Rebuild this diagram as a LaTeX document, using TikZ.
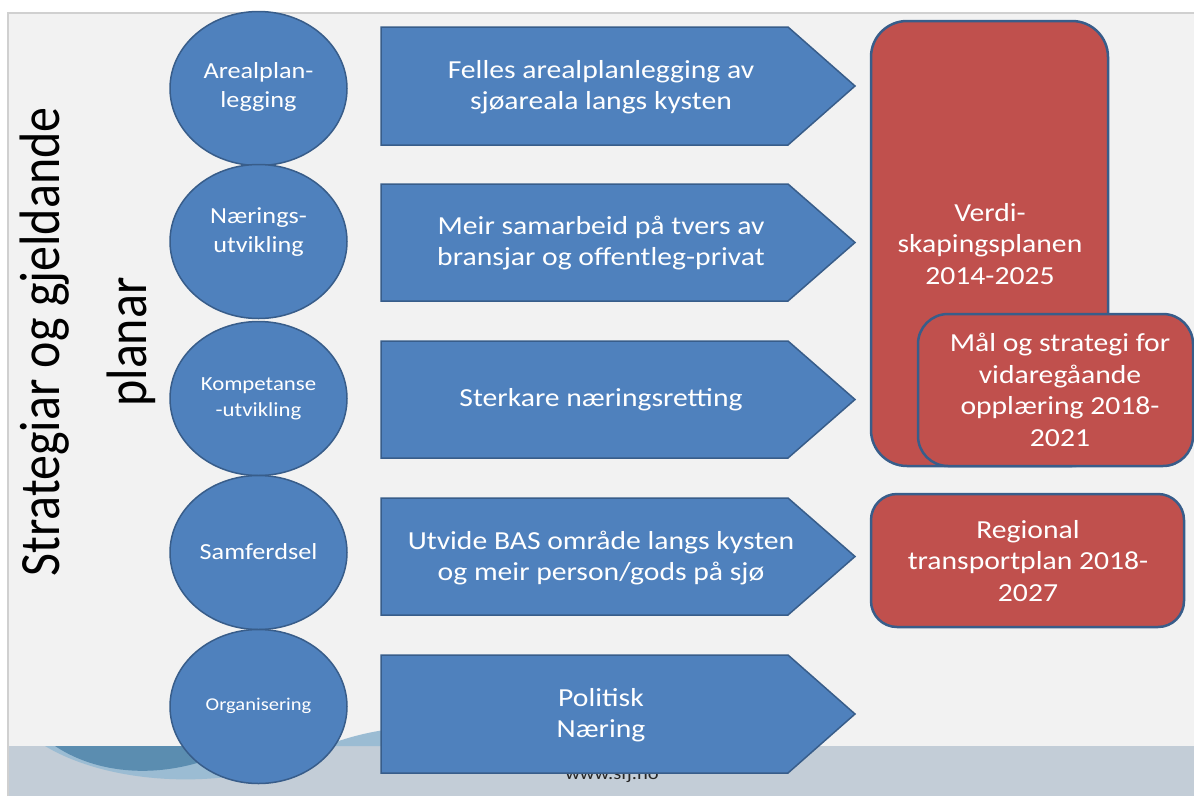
\documentclass[tikz,border=0pt]{standalone}
\usepackage{fontspec}
\setmainfont{Carlito}[FakeStretch=1.14]
\newfontfamily\titlefont{Carlito}
\usepackage{graphicx}
\definecolor{slidebg}{HTML}{F2F2F2}
\definecolor{blufill}{HTML}{4F81BD}
\definecolor{bluline}{HTML}{385D8A}
\definecolor{redfill}{HTML}{C0504D}
\definecolor{bandcol}{HTML}{C3CDD7}
\definecolor{wavedark}{HTML}{5B8DB0}
\definecolor{wavelight}{HTML}{9BBCD3}
\definecolor{edgegrey}{HTML}{D0D0D0}
\definecolor{webgrey}{HTML}{262626}
\tikzset{
  topic/.style={ellipse, draw=bluline, fill=blufill, line width=1.5pt, minimum width=177pt, minimum height=154pt, inner sep=0pt},
  arrowbody/.style={draw=bluline, fill=blufill, line width=1.5pt, line join=miter},
  planbox/.style={draw=bluline, fill=redfill, line width=2.5pt},
  wtext/.style={text=white, align=center},
  ctext/.style={wtext, font=\fontsize{23}{28.5}\selectfont},
  atext/.style={wtext, font=\fontsize{26}{31}\selectfont},
  rtext/.style={wtext, font=\fontsize{26}{31.5}\selectfont},
  titletext/.style={rotate=90, anchor=base, font=\titlefont\fontsize{50}{60}\selectfont},
}
\usetikzlibrary{shapes.geometric}
\begin{document}
\begin{tikzpicture}[x=1pt,y=-1pt]
\useasboundingbox (0,0) rectangle (1194,796);
\fill[white] (0,0) rectangle (1194,796);
% slide
\fill[slidebg] (8,13) rectangle (1194,796);
\fill[bandcol] (8,746) rectangle (1194,796);
\draw[edgegrey, line width=1.5pt] (8,796) -- (8,13) -- (1194,13);
% waves
\fill[wavelight] (45,746) .. controls (110,785) and (220,790) .. (300,760) -- (300,746) -- cycle;
\fill[wavelight] (325,746) .. controls (345,738) and (370,731) .. (400,728) -- (440,728) -- (440,746) -- cycle;
\fill[wavedark] (55,746) .. controls (100,776) and (170,782) .. (240,746) -- cycle;
\node[text=webgrey, anchor=base, font=\fontsize{18}{21}\selectfont] (web) at (612,779) {www.sfj.no};
% title
\node[titletext] (title1) at (59,342) {\scalebox{1}[1.14]{Strategiar og gjeldande}};
\node[titletext] (title2) at (146,342) {\scalebox{1}[1.14]{planar}};
% circles
\node[topic] (c1) at (258.5,88.5) {};
\node[topic] (c2) at (258.5,241.5) {};
\node[topic] (c3) at (258.5,398.5) {};
\node[topic] (c4) at (258.5,552.5) {};
\node[topic] (c5) at (258.5,706.5) {};
\node[ctext] (t1) at (258.5,87) {Arealplan-\\legging};
\node[ctext] (t2) at (258.5,232) {Nærings-\\utvikling};
\node[ctext, font=\fontsize{20}{26}\selectfont] (t3) at (258.5,399) {Kompetanse\\-utvikling};
\node[ctext] (t4) at (258.5,552) {Samferdsel};
\node[ctext, font=\fontsize{18}{22}\selectfont] (t5) at (258.5,706) {Organisering};
% arrows
\path[arrowbody] (381,27) -- (788,27) -- (855,86) -- (788,145) -- (381,145) -- cycle;
\path[arrowbody] (381,184) -- (788,184) -- (855,242.5) -- (788,301) -- (381,301) -- cycle;
\path[arrowbody] (381,341) -- (788,341) -- (855,399.5) -- (788,458) -- (381,458) -- cycle;
\path[arrowbody] (381,498) -- (788,498) -- (855,556.5) -- (788,615) -- (381,615) -- cycle;
\path[arrowbody] (381,655) -- (788,655) -- (855,714) -- (788,773) -- (381,773) -- cycle;
\node[atext] (a1) at (601,87) {Felles arealplanlegging av\\sjøareala langs kysten};
\node[atext] (a2) at (601,243) {Meir samarbeid på tvers av\\bransjar og offentleg-privat};
\node[atext] (a3) at (601,400) {Sterkare næringsretting};
\node[atext] (a4) at (601,558) {Utvide BAS område langs kysten\\og meir person/gods på sjø};
\node[atext] (a5) at (601,715) {Politisk\\Næring};
% plan boxes
\path[planbox, rounded corners=36pt] (871,21) rectangle (1108,466);
\node[rtext] (p1) at (990,244) {Verdi-\\skapingsplanen\\2014-2025};
\path[planbox, rounded corners=30pt] (918,314) rectangle (1193,466);
\node[rtext] (p2) at (1060,390) {Mål og strategi for\\vidaregåande\\opplæring 2018-\\2021};
\path[planbox, rounded corners=26pt] (871,494) rectangle (1184,627);
\node[rtext] (p3) at (1028,561) {Regional\\transportplan 2018-\\2027};
\end{tikzpicture}
\end{document}
